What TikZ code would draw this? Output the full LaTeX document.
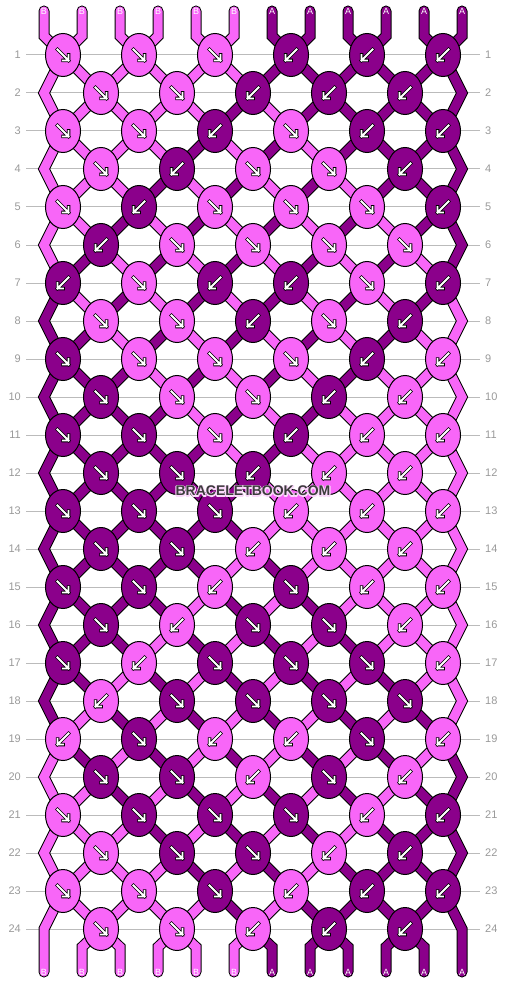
\documentclass[tikz,border=0pt]{standalone}
\usepackage{fontspec}
\setmainfont{Liberation Sans}
\usetikzlibrary{shapes.geometric}

\definecolor{colB}{HTML}{F866F8}
\definecolor{colA}{HTML}{8B008B}
\definecolor{rowgray}{HTML}{BBBBBB}
\definecolor{numgray}{HTML}{999999}
\definecolor{markgray}{HTML}{3C3C3C}

% text drawn with a pale outline behind it
\newcommand\halotext[1]{\rlap{\special{pdf:literal direct 0.98 0.85 0.98 RG 2.2 w 1 J 1 j 1 Tr}#1\special{pdf:literal direct 0 Tr}}#1}

\tikzset{
  strand/.style={draw=black, line width=1pt, double=#1, double distance=9pt, line cap=round, line join=miter},
  knot/.style={ellipse, draw=black, line width=1pt, fill=#1, minimum width=35pt, minimum height=43pt, inner sep=0pt},
  knotarrow/.style={draw=black, line width=0.8pt, double=white, double distance=1.9pt, line cap=rect, line join=miter},
  rowno/.style={font=\fontsize{11}{12}\selectfont, text=numgray, inner xsep=5pt, inner ysep=0pt},
  rowline/.style={draw=rowgray, line width=1pt},
  endlabel/.style={font=\fontsize{9}{10}\selectfont, text=white, inner sep=0pt},
  markfont/.style={font=\bfseries\fontsize{14}{16}\selectfont},
}

\begin{document}
\begin{tikzpicture}[x=1pt, y=-1pt]
  \useasboundingbox (0,0) rectangle (506,984);

  % row guide lines with their numbers on both sides
  \foreach \rw in {1,...,24} {
    \pgfmathsetmacro\yy{55+38*(\rw-1)}
    \node[rowno, anchor=east] (nl-\rw) at (26,\yy) {\rw};
    \node[rowno, anchor=west] (nr-\rw) at (480,\yy) {\rw};
    \draw[rowline] (nl-\rw) -- (nr-\rw);
  }

  % string positions in every row (knot centres, or the side for the outer strings)
  \foreach \rw in {1,...,24} {
    \pgfmathsetmacro\yy{55+38*(\rw-1)}
    \foreach \ps in {0,...,11} {
      \pgfmathsetmacro\xx{isodd(\rw) ? 63+38*(\ps-mod(\ps,2)) : (\ps==0 ? 44 : (\ps==11 ? 462 : 63+38*(\ps-mod(\ps+1,2))))}
      \coordinate (s-\rw-\ps) at (\xx,\yy);
    }
  }
  % loose ends at top and bottom
  \foreach \ps in {0,...,11} {
    \pgfmathsetmacro\xx{44+38*\ps}
    \coordinate (t-\ps) at (\xx,11);
    \coordinate (ta-\ps) at (\xx,36);
    \coordinate (ba-\ps) at (\xx,947);
    \coordinate (s-25-\ps) at (\xx,972);
  }

  % strings coming in at the top
  \foreach \sc [count=\ps from 0] in {B,B,B,B,B,B,A,A,A,A,A,A} {
    \draw[strand=col\sc] (t-\ps) -- (ta-\ps) -- (s-1-\ps);
    \node[endlabel] (tl-\ps) at (t-\ps) {\sc};
  }

  % strings between the rows; rows 13-24 repeat 1-12 with colours swapped
  \foreach \half in {0,1} {
    \ifnum\half=0 \colorlet{strB}{colB}\colorlet{strA}{colA}%
    \else \colorlet{strB}{colA}\colorlet{strA}{colB}\fi
    \foreach \q/\st in {
      0/{B,B,B,B,B,B,A,A,A,A,A,A},
      1/{B,B,B,B,B,B,A,A,A,A,A,A},
      2/{B,B,B,B,B,A,B,A,A,A,A,A},
      3/{B,B,B,B,A,B,A,B,A,A,A,A},
      4/{B,B,B,A,B,A,B,A,B,A,A,A},
      5/{B,B,A,B,A,B,A,B,A,B,A,A},
      6/{B,A,B,A,B,A,B,A,B,A,B,A},
      7/{A,B,A,B,A,B,A,B,A,B,A,B},
      8/{A,A,B,A,B,A,B,A,B,A,B,B},
      9/{A,A,A,B,A,B,A,B,A,B,B,B},
      10/{A,A,A,A,B,A,B,A,B,B,B,B},
      11/{A,A,A,A,A,B,A,B,B,B,B,B}} {
      \pgfmathtruncatemacro\rw{12*\half+\q}
      \pgfmathtruncatemacro\rn{\rw+1}
      \pgfmathtruncatemacro\rnn{\rw+2}
      \foreach \sc [count=\ps from 0] in \st {
        \pgfmathtruncatemacro\side{(\ps==0 || \ps==11) ? 1 : 0}
        \ifnum\rw=0 \else
          \ifnum\side=1
            \ifodd\rw
              \draw[strand=str\sc] (s-\rw-\ps) -- (s-\rn-\ps) -- (s-\rnn-\ps);
            \fi
          \else
            \draw[strand=str\sc] (s-\rw-\ps) -- (s-\rn-\ps);
          \fi
        \fi
      }
    }
  }

  % strings leaving at the bottom
  \foreach \sc [count=\ps from 0] in {B,B,B,B,B,B,A,A,A,A,A,A} {
    \ifnum\ps=0 \else\ifnum\ps=11 \else
      \draw[strand=col\sc] (s-24-\ps) -- (ba-\ps) -- (s-25-\ps);
    \fi\fi
    \node[endlabel] (bl-\ps) at (s-25-\ps) {\sc};
  }

  % knots: 1 = forward knot, -1 = backward knot
  \foreach \half in {0,1} {
    \ifnum\half=0 \colorlet{strB}{colB}\colorlet{strA}{colA}%
    \else \colorlet{strB}{colA}\colorlet{strA}{colB}\fi
    \foreach \q/\kl in {
      1/{1/B,1/B,1/B,-1/A,-1/A,-1/A},
      2/{1/B,1/B,-1/A,-1/A,-1/A},
      3/{1/B,1/B,-1/A,1/B,-1/A,-1/A},
      4/{1/B,-1/A,1/B,1/B,-1/A},
      5/{1/B,-1/A,1/B,1/B,1/B,-1/A},
      6/{-1/A,1/B,1/B,1/B,1/B},
      7/{-1/A,1/B,-1/A,-1/A,1/B,-1/A},
      8/{1/B,1/B,-1/A,1/B,-1/A},
      9/{1/A,1/B,1/B,1/B,-1/A,-1/B},
      10/{1/A,1/B,1/B,-1/A,-1/B},
      11/{1/A,1/A,1/B,-1/A,-1/B,-1/B},
      12/{1/A,1/A,-1/A,-1/B,-1/B}} {
      \pgfmathtruncatemacro\rw{12*\half+\q}
      \foreach \dir/\kc [count=\m from 0] in \kl {
        \pgfmathtruncatemacro\ps{2*\m+1-mod(\rw,2)}
        \node[knot=str\kc] (k-\rw-\m) at (s-\rw-\ps) {};
        \draw[knotarrow, shift={(k-\rw-\m.center)}, xscale=\dir] (-5.5,-5.5) -- (5.5,5.5) (0,5.5) -- (5.5,5.5) -- (5.5,0);
      }
    }
  }

  \node[markfont, text=markgray] (mark) at (253,491) {\halotext{BRACELETBOOK.COM}};
\end{tikzpicture}
\end{document}
